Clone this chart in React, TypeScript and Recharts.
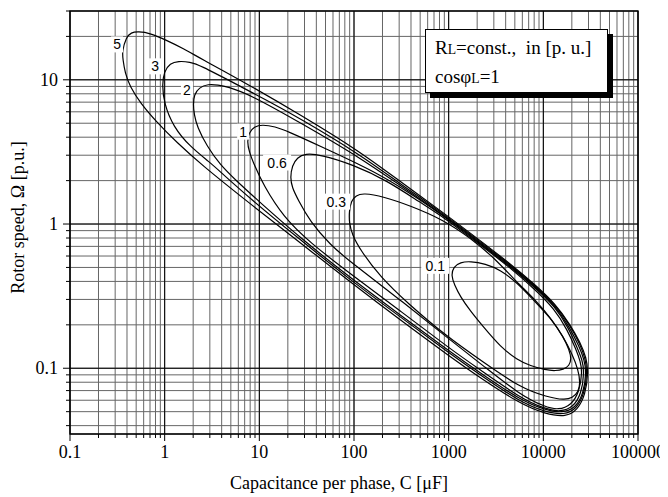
import React from 'react'
import {
  CartesianGrid,
  ComposedChart,
  Line,
  ReferenceArea,
  ReferenceLine,
  Scatter,
  XAxis,
  YAxis,
} from 'recharts'

type Pair = [number, number]

// capacitance C [µF], rotor speed Ω [p.u.]
const RL_5: Pair[] = [
  [0.355, 15.7], [0.391, 19.7], [0.442, 21.3], [0.524, 21.6], [0.702, 21.1], [1.06, 18.7],
  [1.57, 16.5], [2.37, 14.1], [6.74, 9.73], [27.0, 5.74], [116, 3.18], [308, 1.97],
  [877, 1.2], [2160, 0.766], [4480, 0.53], [8220, 0.379], [13400, 0.28], [19300, 0.2],
  [24600, 0.15], [28500, 0.118], [29900, 0.0942], [27800, 0.0652], [22900, 0.0513],
  [17500, 0.0459], [10500, 0.0482], [5710, 0.0565], [2160, 0.0857], [1040, 0.12],
  [308, 0.216], [91.2, 0.397], [27.0, 0.742], [8.0, 1.38], [2.37, 2.62], [1.35, 3.67],
  [0.832, 5.05], [0.55, 6.95], [0.43, 8.97], [0.381, 11.2], [0.363, 13.8],
]

const RL_3: Pair[] = [
  [0.939, 9.27], [0.986, 11.4], [1.14, 13.0], [1.39, 13.5], [1.85, 13.3], [2.37, 12.6],
  [5.28, 9.58], [12.1, 7.18], [27.0, 5.39], [116, 3.03], [308, 1.9], [877, 1.18],
  [2160, 0.754], [4480, 0.521], [8220, 0.373], [13400, 0.275], [19300, 0.197],
  [24600, 0.145], [27800, 0.116], [29200, 0.0942], [27100, 0.0663], [22300, 0.0522],
  [16700, 0.0474], [10500, 0.0497], [5710, 0.0583], [2160, 0.0898], [1040, 0.126],
  [308, 0.227], [91.2, 0.41], [27.0, 0.778], [8.0, 1.5], [3.85, 2.31], [3.02, 2.67],
  [1.85, 3.44], [1.23, 4.74], [0.986, 6.85],
]

const RL_2: Pair[] = [
  [2.0, 6.74], [2.05, 7.9], [2.31, 8.84], [2.88, 9.35], [3.67, 9.2], [4.57, 8.97],
  [8.0, 7.9], [27.0, 5.05], [116, 2.89], [308, 1.85], [877, 1.16], [2160, 0.742],
  [4480, 0.513], [8220, 0.367], [13400, 0.271], [18800, 0.194], [24000, 0.141],
  [27100, 0.114], [28500, 0.0942], [26500, 0.0663], [21800, 0.053], [15900, 0.0489],
  [10500, 0.0513], [5710, 0.0602], [2160, 0.0928], [1040, 0.13], [308, 0.234],
  [91.2, 0.424], [27.0, 0.803], [10.2, 1.41], [5.55, 2.03], [3.85, 2.58], [2.81, 3.44],
  [2.2, 4.74], [2.05, 5.74],
]

const RL_1: Pair[] = [
  [7.43, 3.73], [7.8, 4.31], [8.81, 4.74], [10.7, 4.89], [14.7, 4.74], [19.7, 4.41],
  [44.0, 3.47], [116, 2.58], [224, 2.06], [501, 1.47], [877, 1.14], [2160, 0.73],
  [4480, 0.505], [8220, 0.361], [13400, 0.267], [18400, 0.191], [22900, 0.138],
  [25800, 0.114], [27100, 0.0942], [25200, 0.0663], [20700, 0.0538], [15100, 0.0497],
  [10500, 0.0522], [5710, 0.0622], [2160, 0.0973], [1040, 0.136], [308, 0.25],
  [91.2, 0.452], [34.4, 0.742], [17.9, 1.12], [11.0, 1.87], [8.81, 2.58], [7.8, 3.18],
]

const RL_06: Pair[] = [
  [21.2, 2.1], [22.2, 2.54], [25.1, 2.89], [30.5, 3.08], [44.0, 3.03], [98.2, 2.58],
  [224, 2.0], [501, 1.41], [877, 1.12], [2160, 0.718], [4480, 0.497], [8220, 0.35],
  [13100, 0.258], [17900, 0.185], [22300, 0.134], [24600, 0.112], [25800, 0.0942],
  [24000, 0.0685], [19800, 0.0556], [14400, 0.0513], [10500, 0.0538], [5710, 0.0652],
  [2320, 0.104], [1040, 0.157], [308, 0.298], [91.2, 0.547], [56.0, 0.718], [34.4, 1.04],
  [25.7, 1.47], [22.2, 1.79],
]

const RL_03: Pair[] = [
  [88.9, 1.22], [93.3, 1.45], [105, 1.58], [125, 1.64], [204, 1.55], [393, 1.34],
  [877, 1.07], [1690, 0.803], [3110, 0.574], [5060, 0.404], [8650, 0.289], [12400, 0.216],
  [16300, 0.165], [20300, 0.124], [23400, 0.0973], [24600, 0.0791], [23400, 0.0685],
  [20300, 0.0622], [16700, 0.0602], [11000, 0.0632], [5710, 0.073], [2160, 0.114],
  [966, 0.165], [365, 0.284], [189, 0.431], [116, 0.663], [95.7, 0.843], [88.9, 1.02],
]

const RL_01: Pair[] = [
  [1065, 0.438], [1120, 0.505], [1330, 0.543], [1690, 0.552], [2440, 0.53], [3510, 0.482],
  [5310, 0.391], [7830, 0.298], [11900, 0.224], [16300, 0.165], [18800, 0.134],
  [19800, 0.116], [18800, 0.104], [16300, 0.0981], [13400, 0.0958], [10500, 0.0973],
  [7290, 0.104], [5310, 0.114], [3510, 0.141], [2320, 0.194], [1690, 0.25], [1330, 0.313],
  [1150, 0.379],
]

const CURVES: { name: string; pts: Pair[] }[] = [
  { name: '5', pts: RL_5 },
  { name: '3', pts: RL_3 },
  { name: '2', pts: RL_2 },
  { name: '1', pts: RL_1 },
  { name: '0.6', pts: RL_06 },
  { name: '0.3', pts: RL_03 },
  { name: '0.1', pts: RL_01 },
]

// where each R_L value is written next to its curve
const CURVE_LABELS = [
  { t: '5', c: 0.314, w: 17.6 },
  { t: '3', c: 0.792, w: 12.4 },
  { t: '2', c: 1.72, w: 8.56 },
  { t: '1', c: 6.74, w: 4.37 },
  { t: '0.6', c: 15.4, w: 2.67 },
  { t: '0.3', c: 64.9, w: 1.43 },
  { t: '0.1', c: 721, w: 0.513 },
]

const X_DECADES = [0.1, 1, 10, 100, 1000, 10000]
const Y_DECADES = [0.01, 0.1, 1, 10]
const STEPS = [1, 2, 3, 4, 5, 6, 7, 8, 9]
const X_DOMAIN: Pair = [0.1, 100000]
const Y_DOMAIN: Pair = [0.035, 30]

const xTicks = [...X_DECADES.flatMap((d) => STEPS.map((s) => d * s)), 100000]
const yTicks = Y_DECADES.flatMap((d) => STEPS.map((s) => d * s)).filter(
  (v) => v >= Y_DOMAIN[0] && v <= Y_DOMAIN[1] * 1.0001,
)
const xMajors = [...X_DECADES, 100000]
const yMajors = [0.1, 1, 10]

const SERIF = '"Liberation Serif", "Times New Roman", serif'
const SANS = '"Liberation Sans", Arial, sans-serif'

const isMajor = (v: number) => {
  const l = Math.log10(v)
  return Math.abs(l - Math.round(l)) < 1e-6
}
const fmt = (v: number) => String(Math.round(v * 10) / 10)

function XTick(props: any) {
  const { x, y, payload } = props
  const major = isMajor(payload.value)
  return (
    <g>
      <line x1={x} x2={x} y1={y} y2={y + (major ? 7 : 4)} stroke="#000" />
      {major && (
        <text x={x} y={y + 24} textAnchor="middle" fontFamily={SERIF} fontSize={18} fill="#000">
          {fmt(payload.value)}
        </text>
      )}
    </g>
  )
}

function YTick(props: any) {
  const { x, y, payload } = props
  const major = isMajor(payload.value)
  return (
    <g>
      <line x1={x - (major ? 7 : 4)} x2={x} y1={y} y2={y} stroke="#000" />
      {major && (
        <text x={x - 12} y={y + 6} textAnchor="end" fontFamily={SERIF} fontSize={18} fill="#000">
          {fmt(payload.value)}
        </text>
      )}
    </g>
  )
}

function CurveLabel(props: any) {
  const { cx, cy, payload } = props
  const w = payload.t.length * 8 + 4
  return (
    <g>
      <rect x={cx - w / 2} y={cy - 8} width={w} height={16} fill="#fff" />
      <text x={cx} y={cy + 5} textAnchor="middle" fontFamily={SANS} fontSize={14} fill="#000">
        {payload.t}
      </text>
    </g>
  )
}

const small = { fontSize: '0.72em' }

export default function App() {
  return (
    <div style={{ position: 'relative', width: 660, height: 489 }}>
      <ComposedChart width={660} height={489} margin={{ top: 3, right: 30, bottom: 0, left: 0 }}>
        <CartesianGrid stroke="#666" strokeWidth={1} />
        <XAxis
          dataKey="c"
          type="number"
          scale="log"
          domain={X_DOMAIN}
          ticks={xTicks}
          interval={0}
          allowDataOverflow
          height={63}
          tickSize={0}
          tickMargin={0}
          tickLine={false}
          axisLine={false}
          tick={<XTick />}
          label={(p: any) => {
            const vb = p.viewBox
            return (
              <text
                x={vb.x + vb.width / 2 - 15}
                y={vb.y + 55}
                textAnchor="middle"
                fontFamily={SERIF}
                fontSize={18}
                fill="#000"
              >
                Capacitance per phase, C [μF]
              </text>
            )
          }}
        />
        <YAxis
          dataKey="w"
          type="number"
          scale="log"
          domain={Y_DOMAIN}
          ticks={yTicks}
          interval={0}
          allowDataOverflow
          width={62}
          tickSize={0}
          tickMargin={0}
          tickLine={false}
          axisLine={false}
          tick={<YTick />}
          label={(p: any) => {
            const vb = p.viewBox
            const cx = vb.x + 16
            const cy = vb.y + vb.height / 2 - 5
            return (
              <text
                x={cx}
                y={cy}
                transform={`rotate(-90, ${cx}, ${cy})`}
                textAnchor="middle"
                fontFamily={SERIF}
                fontSize={18}
                fill="#000"
              >
                Rotor speed, Ω [p.u.]
              </text>
            )
          }}
        />
        {xMajors.map((v) => (
          <ReferenceLine key={'x' + v} x={v} stroke="#000" />
        ))}
        {yMajors.map((v) => (
          <ReferenceLine key={'y' + v} y={v} stroke="#000" />
        ))}
        <ReferenceArea
          x1={X_DOMAIN[0]}
          x2={X_DOMAIN[1]}
          y1={Y_DOMAIN[0]}
          y2={Y_DOMAIN[1]}
          fill="none"
          stroke="#000"
          strokeWidth={1.3}
          ifOverflow="visible"
        />
        {CURVES.map((cv) => (
          <Line
            key={cv.name}
            data={cv.pts.map(([c, w]) => ({ c, w }))}
            dataKey="w"
            type="basisClosed"
            stroke="#000"
            strokeWidth={1.2}
            dot={false}
            activeDot={false}
            isAnimationActive={false}
          />
        ))}
        <Scatter data={CURVE_LABELS} dataKey="w" shape={CurveLabel} isAnimationActive={false} />
      </ComposedChart>
      <div
        style={{
          position: 'absolute',
          left: 417,
          top: 21,
          width: 183,
          height: 64,
          boxSizing: 'border-box',
          border: '1px solid #000',
          background: '#fff',
          boxShadow: '5px 5px 0 #000',
          fontFamily: SERIF,
          fontSize: 19,
          lineHeight: '27px',
          padding: '4px 0 0 9px',
          whiteSpace: 'nowrap',
          color: '#000',
        }}
      >
        <div>
          R<span style={small}>L</span>=const.,&nbsp; in [p. u.]
        </div>
        <div>
          cosφ<span style={small}>L</span>=1
        </div>
      </div>
    </div>
  )
}
